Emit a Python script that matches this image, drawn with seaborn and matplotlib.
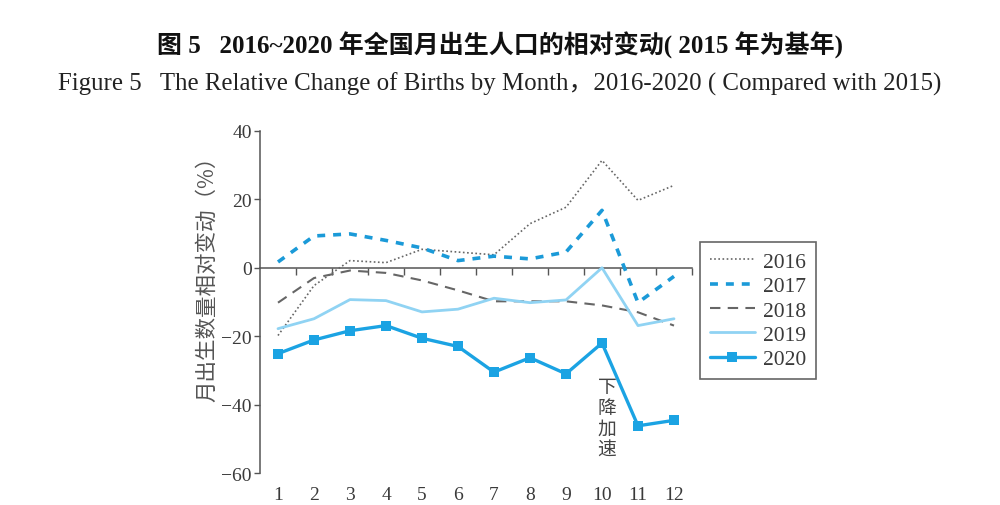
import matplotlib
matplotlib.use("Agg")
import matplotlib.pyplot as plt
from matplotlib.ticker import NullFormatter
import seaborn as sns
import pandas as pd

months = list(range(1, 13))
month_labels = [str(m) for m in months]
y2016 = [-19.8, -5.2, 2.1, 1.5, 5.4, 4.6, 3.8, 12.9, 17.7, 31.4, 19.7, 24.1]
y2017 = [1.7, 9.3, 9.9, 8.0, 5.8, 2.1, 3.4, 2.6, 4.6, 16.8, -10.2, -2.5]
y2018 = [-10.2, -3.0, -0.8, -1.5, -3.7, -6.6, -9.8, -9.8, -9.8, -11.0, -13.0, -16.9]
y2019 = [-17.8, -14.9, -9.3, -9.6, -12.9, -12.1, -8.9, -10.2, -9.4, 0.0, -16.9, -14.9]
y2020 = [-25.1, -21.1, -18.4, -16.9, -20.6, -23.0, -30.5, -26.3, -31.0, -22.0, -46.2, -44.6]
yticks = [-60, -40, -20, 0, 20, 40]

title = "图 5   2016~2020 年全国月出生人口的相对变动( 2015 年为基年)"
subtitle = "Figure 5   The Relative Change of Births by Month，2016-2020 ( Compared with 2015)"
ylabel = "月出生数量相对变动（%）"
note = "下\n降\n加\n速"

sns.set_theme(style="white")
plt.rcParams['font.family'] = ['Liberation Serif', 'Noto Sans CJK SC', 'DejaVu Sans']
plt.rcParams['axes.unicode_minus'] = True

fig = plt.figure(figsize=(10, 5.06), dpi=100)
ax = fig.add_axes([0.26, 0.0632, 0.432, 0.676])

axis_col = "#555555"
text_col = "#3a3a3a"

styles = [
    ("2016", y2016, dict(color="#666666", lw=1.2, linestyle=(0, (1, 1.5)))),
    ("2017", y2017, dict(color="#1b9ad8", lw=2.6, linestyle=(0, (2.2, 2.2)))),
    ("2018", y2018, dict(color="#666666", lw=1.5, linestyle=(0, (5, 3.5)))),
    ("2019", y2019, dict(color="#90d3f3", lw=2.0, linestyle="-")),
    ("2020", y2020, dict(color="#1ba3e3", lw=2.4, linestyle="-", marker="s",
                         markersize=6.5, markeredgewidth=0)),
]
for name, vals, kw in styles:
    df = pd.DataFrame({"m": months, "v": vals})
    sns.lineplot(data=df, x="m", y="v", ax=ax, label=name, **kw)

ax.set_xlim(0.5, 12.5)
ax.set_ylim(-60, 40)
ax.set_xticks(months)
ax.set_xticklabels(month_labels)
ax.set_yticks(yticks)
ax.set_yticklabels([str(t).replace("-", "\u2212") for t in yticks])
ax.tick_params(axis="x", length=0, pad=9, labelsize=14, colors=text_col)
ax.tick_params(axis="y", length=4, width=1, pad=2, labelsize=14,
               colors=axis_col, labelcolor=text_col, direction="out", left=True)
for s in ["top", "right", "bottom"]:
    ax.spines[s].set_visible(False)
ax.spines["left"].set_color(axis_col)
ax.spines["left"].set_linewidth(1.1)

# zero line with tick marks between months
sec = ax.secondary_xaxis(0.6)
sec.set_xticks([m + 0.5 for m in months])
sec.xaxis.set_major_formatter(NullFormatter())
sec.xaxis.set_ticks_position("top")
sec.tick_params(axis="x", length=5, width=1, color=axis_col, direction="in",
                labeltop=False, labelbottom=False)
for s in ["top", "bottom"]:
    sec.spines[s].set_color(axis_col)
    sec.spines[s].set_linewidth(1.1)

ax.set_xlabel("")
ax.set_ylabel(ylabel, family=["Noto Sans CJK SC"], fontsize=15.5, color="#555555")
ax.yaxis.set_label_coords(-0.098, 0.585)

ax.text(10.14, -31.5, note, family=["Noto Sans CJK SC"], fontsize=13.5, color="#444444",
        ha="center", va="top", linespacing=1.0)

leg = ax.legend(loc="upper left", bbox_to_anchor=(1.0185, 0.675), fontsize=15.5,
                frameon=True, fancybox=False, edgecolor="#666666", framealpha=1,
                handlelength=2.1, handletextpad=0.4, labelspacing=0.2, borderpad=0.45,
                borderaxespad=0)
leg.get_frame().set_linewidth(1.2)
for t in leg.get_texts():
    t.set_color(text_col)

fig.text(0.5, 0.91, title, ha="center", va="center", fontsize=18, fontweight="bold",
         color="#111111")
fig.text(0.5, 0.833, subtitle, ha="center", va="center", fontsize=17.9, color="#222222")

fig.savefig("out.png", dpi=100)
